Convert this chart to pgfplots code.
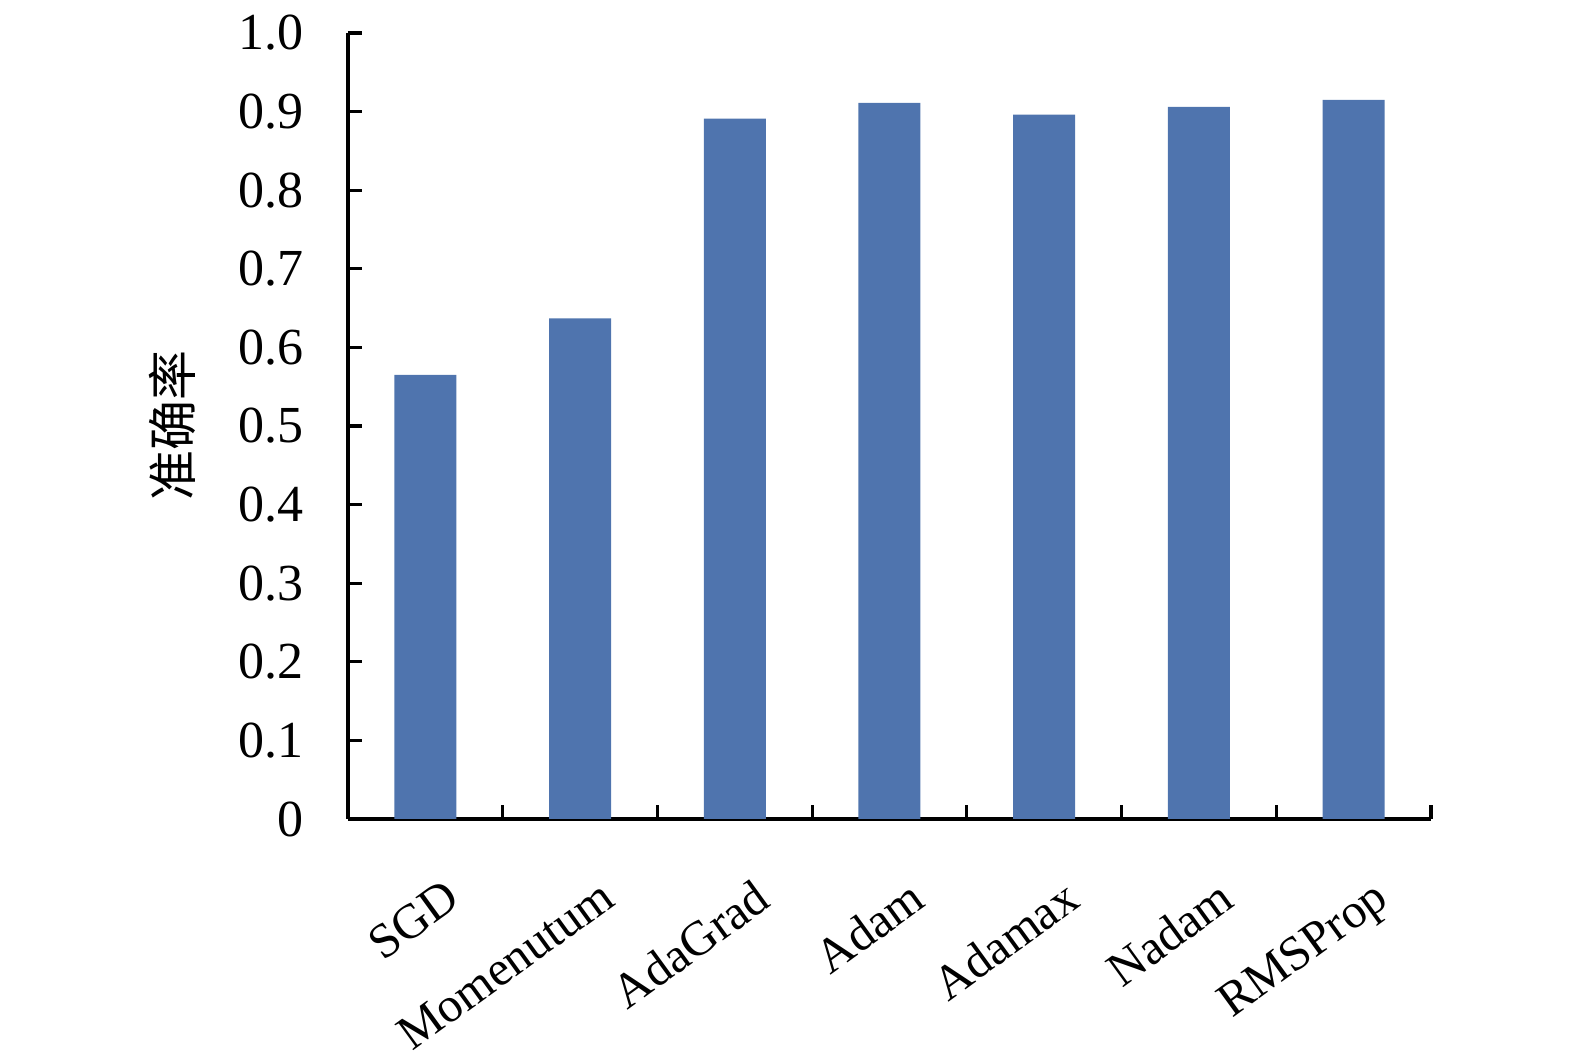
\documentclass[border=0pt]{standalone}
\usepackage{pgfplots}
\pgfplotsset{compat=1.18}
\usepackage{fontspec}
\setmainfont{Liberation Serif}
\newfontfamily\cjk{Noto Sans CJK SC}
\definecolor{barblue}{RGB}{79,116,174}
\begin{document}
\begin{tikzpicture}
\path[use as bounding box] (-87pt,-59.25pt) rectangle (306.75pt,204.75pt);
\begin{axis}[
  at={(0,0)}, anchor=south west,
  scale only axis,
  width=270.75pt, height=196.5pt,
  xmin=-0.5, xmax=6.5,
  ymin=0, ymax=1.0,
  axis lines*=left,
  axis line style={line width=0.8pt, black},
  ytick={0,0.1,...,1.0},
  yticklabels={0,0.1,0.2,0.3,0.4,0.5,0.6,0.7,0.8,0.9,1.0},
  xtick={0.5,1.5,...,6.5},
  xticklabels={},
  extra x ticks={0,1,2,3,4,5,6},
  extra x tick labels={SGD,Momenutum,AdaGrad,Adam,Adamax,Nadam,RMSProp},
  extra x tick style={major tick length=0pt},
  tick align=inside,
  major tick length=3.5pt,
  tick style={line width=0.8pt, black},
  yticklabel style={font=\fontsize{13}{15}\selectfont, xshift=-7.5pt},
  xticklabel style={font=\fontsize{12.2}{14}\selectfont, rotate=36, anchor=north east, xshift=-1.5pt, yshift=-11pt},
  ylabel={\cjk 准确率},
  ylabel style={font=\fontsize{12.5}{15}\selectfont, at={(axis description cs:-0.162,0.5)}, anchor=center},
  /pgf/number format/assume math mode=true,
]
\addplot[ybar, bar width=15.5pt, fill=barblue, draw=none] coordinates {
  (0,0.565) (1,0.637) (2,0.891) (3,0.911) (4,0.896) (5,0.906) (6,0.915)
};
\end{axis}
\end{tikzpicture}
\end{document}
